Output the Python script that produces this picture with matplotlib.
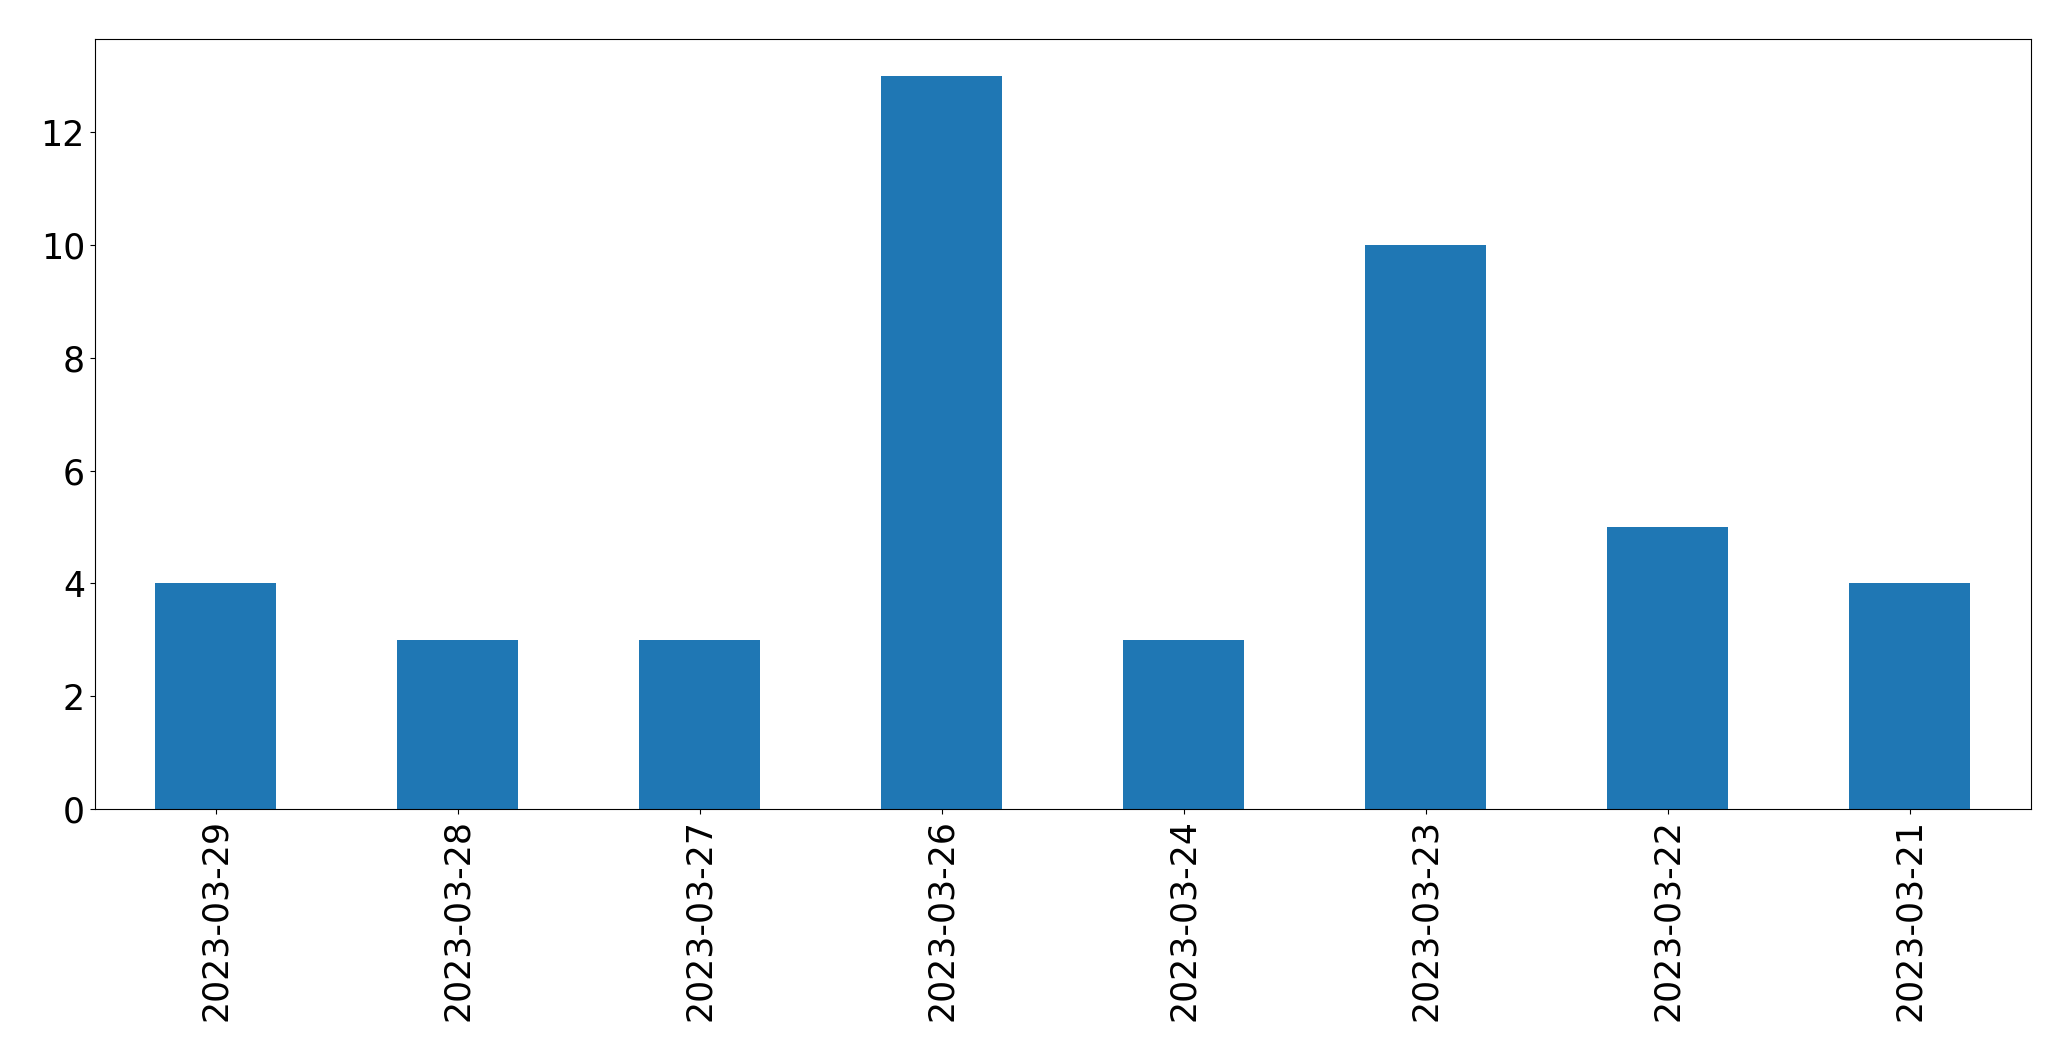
import matplotlib
matplotlib.use("Agg")
import matplotlib.pyplot as plt
import pandas as pd

dates = ["2023-03-29", "2023-03-28", "2023-03-27", "2023-03-26",
         "2023-03-24", "2023-03-23", "2023-03-22", "2023-03-21"]
counts = [4, 3, 3, 13, 3, 10, 5, 4]

plt.rcParams["font.size"] = 25

fig = plt.figure(figsize=(20.71, 10.61), dpi=100)
ax = fig.add_axes([94.7 / 2071, 1 - 809 / 1061, (2031 - 94.7) / 2071, (809 - 39.3) / 1061])

s = pd.Series(counts, index=dates)
s.plot(kind="bar", ax=ax, color="#1f77b4")

fig.savefig("out.png", dpi=100)
